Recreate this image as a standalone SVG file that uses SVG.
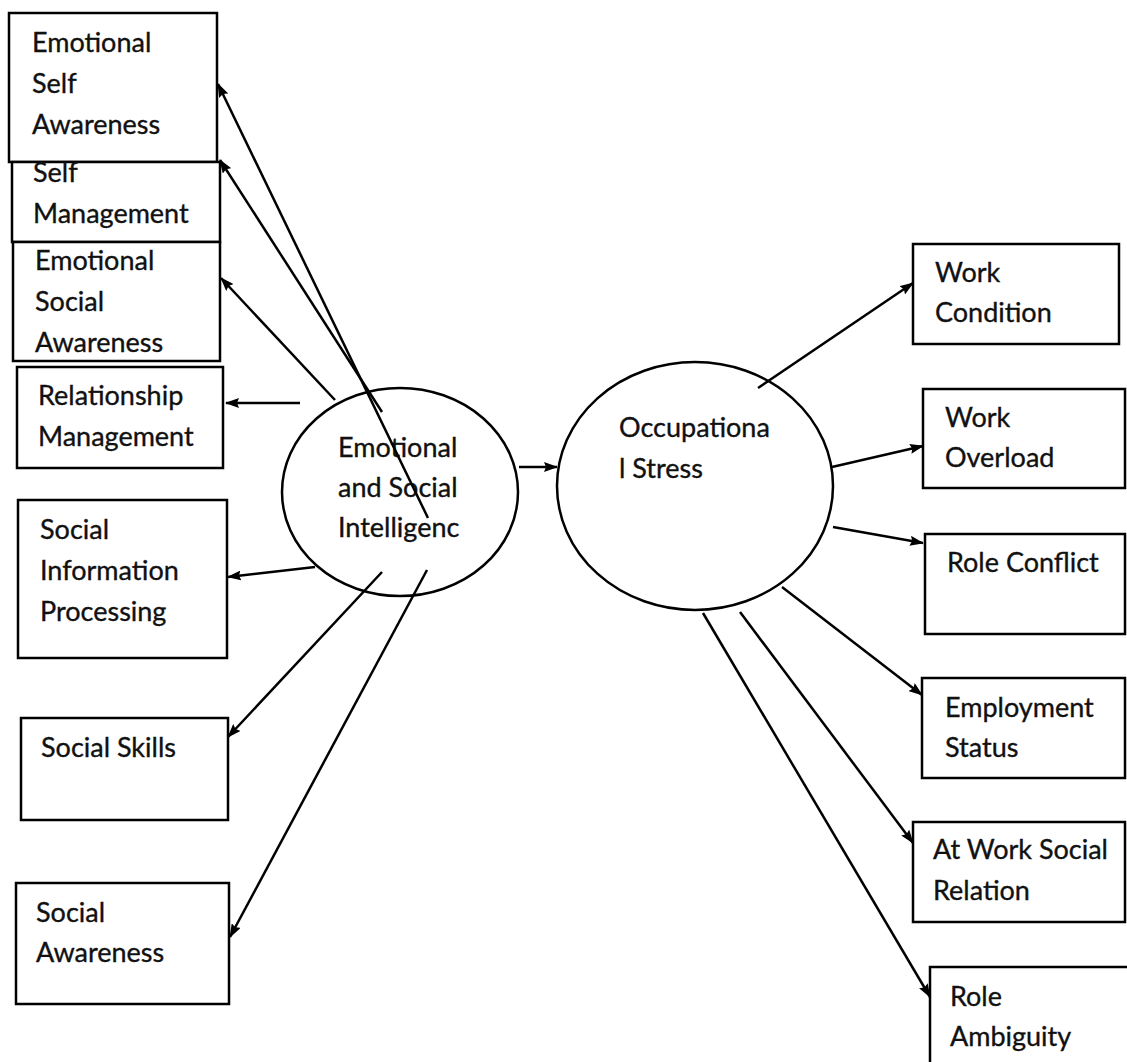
<svg xmlns="http://www.w3.org/2000/svg" width="1127" height="1062" viewBox="0 0 1127 1062">
<defs>
<marker id="ah" viewBox="0 0 14 10" refX="13" refY="5" markerWidth="14" markerHeight="10" markerUnits="userSpaceOnUse" orient="auto">
<path d="M0,0 L14,5 L0,10 L2,5 Z" fill="#000"/>
</marker>
<style>
.box{fill:#fff;stroke:#000;stroke-width:2.5}
.ell{fill:#fff;stroke:#000;stroke-width:2.5}
.t{font-family:Lato,"Open Sans","Liberation Sans",sans-serif;font-size:27px;fill:#111;stroke:#111;stroke-width:0.35}
.c{stroke:#000;stroke-width:2.5;fill:none;marker-end:url(#ah)}
</style>
</defs>
<rect width="1127" height="1062" fill="#fff"/>
<g id="n-esa"><rect class="box" x="9" y="13" width="208" height="149"/><text class="t" x="32" y="52">Emotional</text><text class="t" x="32" y="93">Self</text><text class="t" x="32" y="134">Awareness</text></g>
<g id="n-sm"><rect class="box" x="12" y="162" width="208" height="80"/><text class="t" x="33" y="182">Self</text><text class="t" x="33" y="223">Management</text></g>
<g id="n-esoc"><rect class="box" x="13" y="242" width="207" height="119"/><text class="t" x="35" y="270">Emotional</text><text class="t" x="35" y="311">Social</text><text class="t" x="35" y="352">Awareness</text></g>
<g id="n-rm"><rect class="box" x="17" y="367" width="206" height="101"/><text class="t" x="38" y="405">Relationship</text><text class="t" x="38" y="446">Management</text></g>
<g id="n-sip"><rect class="box" x="18" y="500" width="209" height="158"/><text class="t" x="40" y="539">Social</text><text class="t" x="40" y="580">Information</text><text class="t" x="40" y="621">Processing</text></g>
<g id="n-ss"><rect class="box" x="21" y="718" width="207" height="102"/><text class="t" x="41" y="757">Social Skills</text></g>
<g id="n-sa"><rect class="box" x="16" y="883" width="213" height="121"/><text class="t" x="36" y="922">Social</text><text class="t" x="36" y="962">Awareness</text></g>
<g id="n-esi"><ellipse class="ell" cx="400" cy="492" rx="118" ry="104"/><text class="t" x="338" y="457">Emotional</text><text class="t" x="338" y="497">and Social</text><text class="t" x="338" y="537">Intelligenc</text></g>
<g id="n-os"><ellipse class="ell" cx="695" cy="486" rx="138" ry="124"/><text class="t" x="619" y="437">Occupationa</text><text class="t" x="619" y="478">l Stress</text></g>
<g id="n-wc"><rect class="box" x="913" y="244" width="206" height="100"/><text class="t" x="935" y="282">Work</text><text class="t" x="935" y="322">Condition</text></g>
<g id="n-wo"><rect class="box" x="923" y="389" width="202" height="99"/><text class="t" x="945" y="427">Work</text><text class="t" x="945" y="467">Overload</text></g>
<g id="n-rc"><rect class="box" x="925" y="534" width="200" height="100"/><text class="t" x="947" y="572">Role Conflict</text></g>
<g id="n-es"><rect class="box" x="922" y="678" width="203" height="100"/><text class="t" x="945" y="717">Employment</text><text class="t" x="945" y="757">Status</text></g>
<g id="n-aw"><rect class="box" x="913" y="822" width="212" height="100"/><text class="t" x="933" y="859">At Work Social</text><text class="t" x="933" y="900">Relation</text></g>
<g id="n-ra"><rect class="box" x="930" y="967" width="200" height="103"/><text class="t" x="950" y="1006">Role</text><text class="t" x="950" y="1046">Ambiguity</text></g>
<g id="connectors">
<line class="c" x1="428" y1="518" x2="218" y2="84"/>
<line class="c" x1="382" y1="412" x2="220" y2="160"/>
<line class="c" x1="335" y1="400" x2="221" y2="278"/>
<line class="c" x1="300" y1="403" x2="226" y2="403"/>
<line class="c" x1="315" y1="567" x2="228" y2="577"/>
<line class="c" x1="382" y1="572" x2="228" y2="737"/>
<line class="c" x1="427" y1="570" x2="230" y2="937"/>
<line class="c" x1="519" y1="467" x2="557" y2="467"/>
<line class="c" x1="758" y1="388" x2="913" y2="283"/>
<line class="c" x1="832" y1="467" x2="923" y2="446"/>
<line class="c" x1="833" y1="527" x2="923" y2="543"/>
<line class="c" x1="782" y1="587" x2="922" y2="695"/>
<line class="c" x1="740" y1="612" x2="913" y2="843"/>
<line class="c" x1="703" y1="613" x2="930" y2="997"/>
</g>
</svg>
